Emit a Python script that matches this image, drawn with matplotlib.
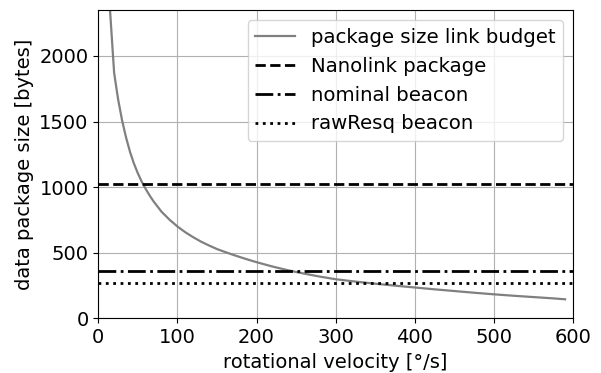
import matplotlib
matplotlib.use('Agg')
import matplotlib.pyplot as plt

# link budget curve: max package size vs rotational velocity
omega = [10, 15, 20, 25, 30, 35, 40, 45, 50, 55, 60, 65, 70, 80, 90, 100,
         110, 120, 130, 140, 150, 160, 170, 180, 190, 200, 220, 240, 260, 280,
         300, 325, 350, 375, 400, 425, 450, 475, 500, 525, 550, 575, 590]
pkg_size = [2800, 2330, 1870, 1670, 1510, 1380, 1270, 1180, 1105, 1040, 985,
            935, 890, 812, 752, 700, 656, 618, 584, 555, 528, 506, 485, 465,
            446, 428, 395, 366, 341, 318, 298, 280, 264, 249, 235, 221, 208,
            195, 183, 172, 162, 152, 145]

# reference package sizes [bytes]
nanolink_pkg = 1024
nominal_beacon = 363
rawresq_beacon = 266

fig = plt.figure(figsize=(6.01, 3.73), dpi=100)
ax = fig.add_axes([0.1636, 0.1466, 0.7898, 0.8264])

ax.plot(omega, pkg_size, color='grey', linewidth=1.6, label='package size link budget')
ax.axhline(nanolink_pkg, color='black', linestyle='--', linewidth=2, label='Nanolink package')
ax.axhline(nominal_beacon, color='black', linestyle='-.', linewidth=2, label='nominal beacon')
ax.axhline(rawresq_beacon, color='black', linestyle=':', linewidth=2, label='rawResq beacon')

ax.set_xlim(0, 600)
ax.set_ylim(0, 2350)
ax.set_xticks([0, 100, 200, 300, 400, 500, 600])
ax.set_yticks([0, 500, 1000, 1500, 2000])
ax.tick_params(axis='both', labelsize=14)
ax.set_xlabel('rotational velocity [°/s]', fontsize=14)
ax.set_ylabel('data package size [bytes]', fontsize=14)
ax.grid(True)
ax.legend(fontsize=14.2, loc='upper right')

fig.savefig('out.png', dpi=100)
